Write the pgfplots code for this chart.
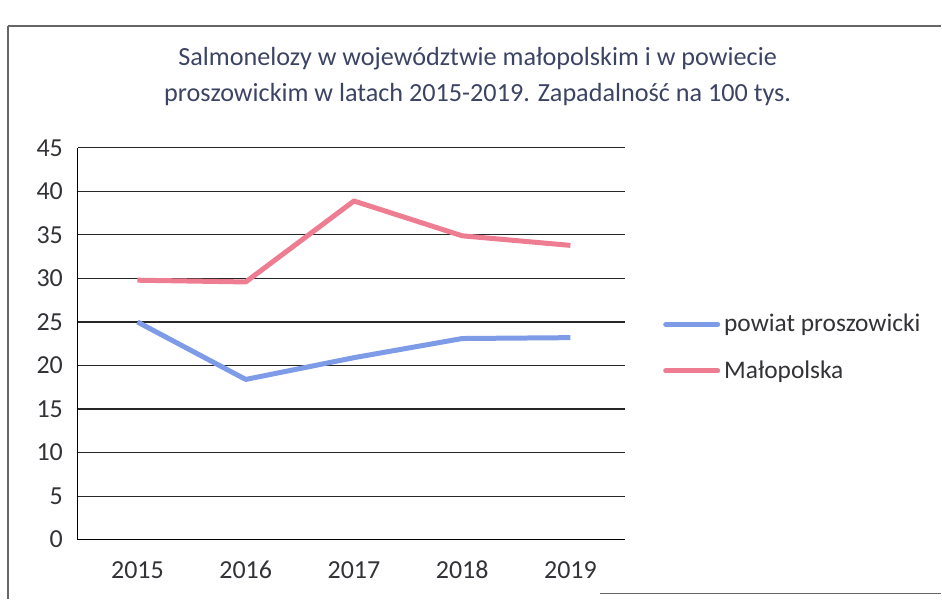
\documentclass[border=0pt]{standalone}
\usepackage{pgfplots}
\pgfplotsset{compat=1.18}
\usepackage{fontspec}
\setmainfont{Carlito}
\definecolor{titlec}{RGB}{60,68,100}
\definecolor{tickc}{RGB}{50,50,55}
\definecolor{powiat}{RGB}{125,155,230}
\definecolor{malo}{RGB}{238,125,145}

\begin{document}
\begin{tikzpicture}
\begin{axis}[
    scale only axis,
    width=273.5pt, height=196pt,
    xmin=-0.55, xmax=4.5,
    ymin=0, ymax=45,
    xtick={0,1,2,3,4},
    xticklabels={2015,2016,2017,2018,2019},
    ytick={0,5,...,45},
    major tick length=0pt,
    axis x line*=bottom,
    axis y line*=left,
    axis line style={-, draw=black, line width=0.55pt},
    ymajorgrids,
    grid style={black!85, line width=0.55pt},
    tick label style={font=\fontsize{13}{15}\selectfont, text=tickc},
    /pgf/number format/assume math mode=true,
    xticklabel style={text height=9pt, text depth=0pt, yshift=-7pt},
    yticklabel style={xshift=-4pt},
    legend style={draw=none, fill=none, at={(rel axis cs:1.07,0.49)}, anchor=west,
        font=\fontsize{12.7}{14}\selectfont, text=tickc, row sep=9pt,
        inner sep=0pt},
    legend cell align=left,
    legend image code/.code={\draw[#1, line width=2.5pt, line cap=round] (0pt,0pt) -- (26pt,0pt);},
]
\addplot[powiat, line width=2.5pt, line join=round] coordinates {
    (0,25.0) (1,18.4) (2,20.9) (3,23.1) (4,23.2)
};
\addplot[malo, line width=2.5pt, line join=round] coordinates {
    (0,29.8) (1,29.6) (2,38.9) (3,34.9) (4,33.8)
};
\legend{powiat proszowicki, Małopolska}
\end{axis}
% title, frame and page size, in px/2 relative to the plot area
\begin{scope}[shift={(-39pt,-29.5pt)}, x=0.5pt, y=-0.5pt, yshift=299.5pt]
\node[font=\fontsize{13.1}{16}\selectfont, text=titlec, align=center] at (478,77)
  {Salmonelozy w województwie małopolskim i w powiecie\\[2pt]
   proszowickim w latach 2015-2019. Zapadalność na 100 tys.};
\draw[gray!80!black, line width=0.7pt] (8,26) -- (942,26);
\draw[gray!80!black, line width=0.7pt] (8,26) -- (8,599);
\draw[gray!80!black, line width=0.7pt] (600,594) -- (942,594);
\useasboundingbox (0,0) rectangle (942,599);
\end{scope}
\end{tikzpicture}
\end{document}
